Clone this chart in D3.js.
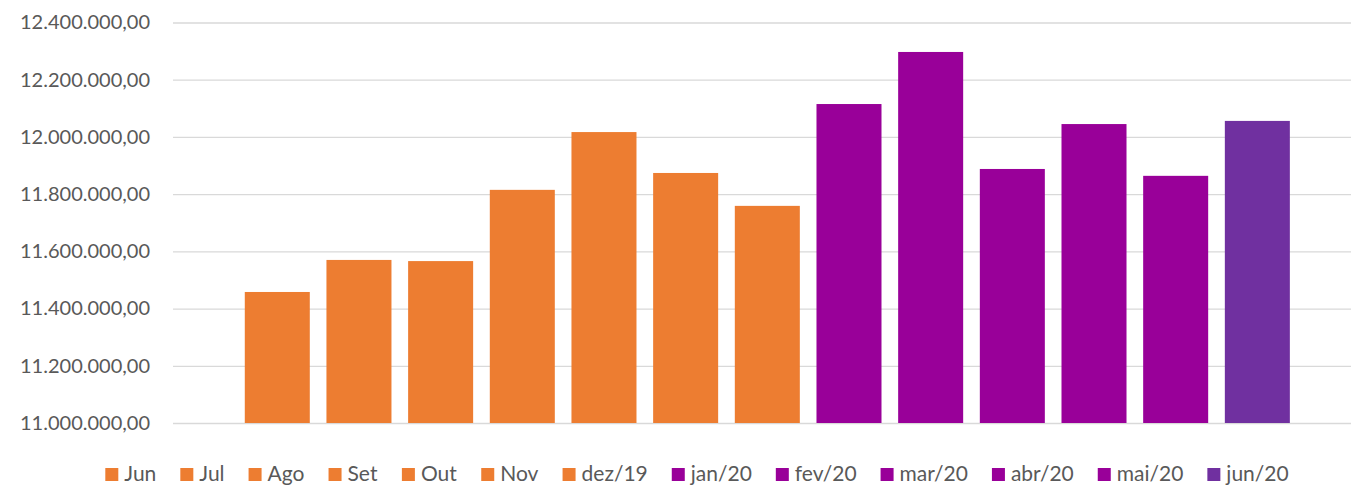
<!DOCTYPE html>
<html>
<head>
<meta charset="utf-8">
<script src="https://cdn.jsdelivr.net/npm/d3@7"></script>
<style>
  body { margin: 0; background: #fff; }
  text { font-family: Lato, "Open Sans", sans-serif; fill: #595959; }
</style>
</head>
<body>
<div id="wrapper"></div>
<script>
// data
const months = ["Jun", "Jul", "Ago", "Set", "Out", "Nov", "dez/19",
  "jan/20", "fev/20", "mar/20", "abr/20", "mai/20", "jun/20"];
const values = [11458000, 11570000, 11566000, 11815000, 12017000, 11874000, 11759000,
  12115000, 12297000, 11888000, 12045000, 11864000, 12056000];
const colors = ["#ED7D31", "#ED7D31", "#ED7D31", "#ED7D31", "#ED7D31", "#ED7D31", "#ED7D31",
  "#990099", "#990099", "#990099", "#990099", "#990099", "#7030A0"];
const yTicks = [11000000, 11200000, 11400000, 11600000, 11800000, 12000000, 12200000, 12400000];

const dataset = months.map((m, i) => ({ month: m, value: values[i], color: colors[i] }));

let dimensions = {
  width: 1351,
  height: 486,
  margin: { top: 22.5, right: 0, bottom: 63, left: 173 },
};
dimensions.boundedWidth = dimensions.width - dimensions.margin.left - dimensions.margin.right;
dimensions.boundedHeight = dimensions.height - dimensions.margin.top - dimensions.margin.bottom;

const wrapper = d3.select("#wrapper")
  .append("svg")
  .attr("width", dimensions.width)
  .attr("height", dimensions.height);

const bounds = wrapper.append("g")
  .attr("transform", `translate(${dimensions.margin.left},${dimensions.margin.top})`);

const yScale = d3.scaleLinear()
  .domain([11000000, 12400000])
  .range([dimensions.boundedHeight, 0]);

// one category holding 13 series, like the spreadsheet chart
const catScale = d3.scaleBand()
  .domain(["all"])
  .range([0, dimensions.boundedWidth])
  .paddingOuter(0.0636)
  .align(0.54);

const xScale = d3.scaleBand()
  .domain(months)
  .range([catScale("all"), catScale("all") + catScale.bandwidth()])
  .paddingInner(0.204)
  .paddingOuter(0);

// gridlines + labels
const fmt = d3.formatLocale({ decimal: ",", thousands: ".", grouping: [3], currency: ["", ""] }).format(",.2f");

const yAxis = bounds.append("g")
  .call(d3.axisLeft(yScale).tickValues(yTicks).tickSize(-dimensions.boundedWidth).tickFormat(fmt).tickPadding(23));
yAxis.select(".domain").remove();
yAxis.selectAll(".tick line").attr("stroke", "#D9D9D9").attr("stroke-width", 1.3);
yAxis.selectAll(".tick text")
  .style("font-family", "Lato, 'Open Sans', sans-serif")
  .style("font-size", "20px")
  .attr("fill", "#595959");

// bars
bounds.selectAll(".bar")
  .data(dataset)
  .join("rect")
  .attr("class", "bar")
  .attr("x", (d) => xScale(d.month))
  .attr("width", xScale.bandwidth())
  .attr("y", (d) => yScale(d.value))
  .attr("height", (d) => dimensions.boundedHeight - yScale(d.value))
  .attr("fill", (d) => d.color);

// legend
const legend = wrapper.append("g");
const items = legend.selectAll("g")
  .data(dataset)
  .join("g");
items.append("rect")
  .attr("width", 13)
  .attr("height", 13)
  .attr("y", -12)
  .attr("fill", (d) => d.color);
items.append("text")
  .attr("x", 19)
  .attr("y", 1)
  .style("font-size", "21px")
  .text((d) => d.month);

const gap = 24;
let cursor = 0;
items.each(function () {
  const w = this.getBBox().width;
  d3.select(this).attr("transform", `translate(${cursor},0)`);
  cursor += w + gap;
});
const legendWidth = cursor - gap;
legend.attr("transform", `translate(${697 - legendWidth / 2},480)`);
</script>
</body>
</html>
